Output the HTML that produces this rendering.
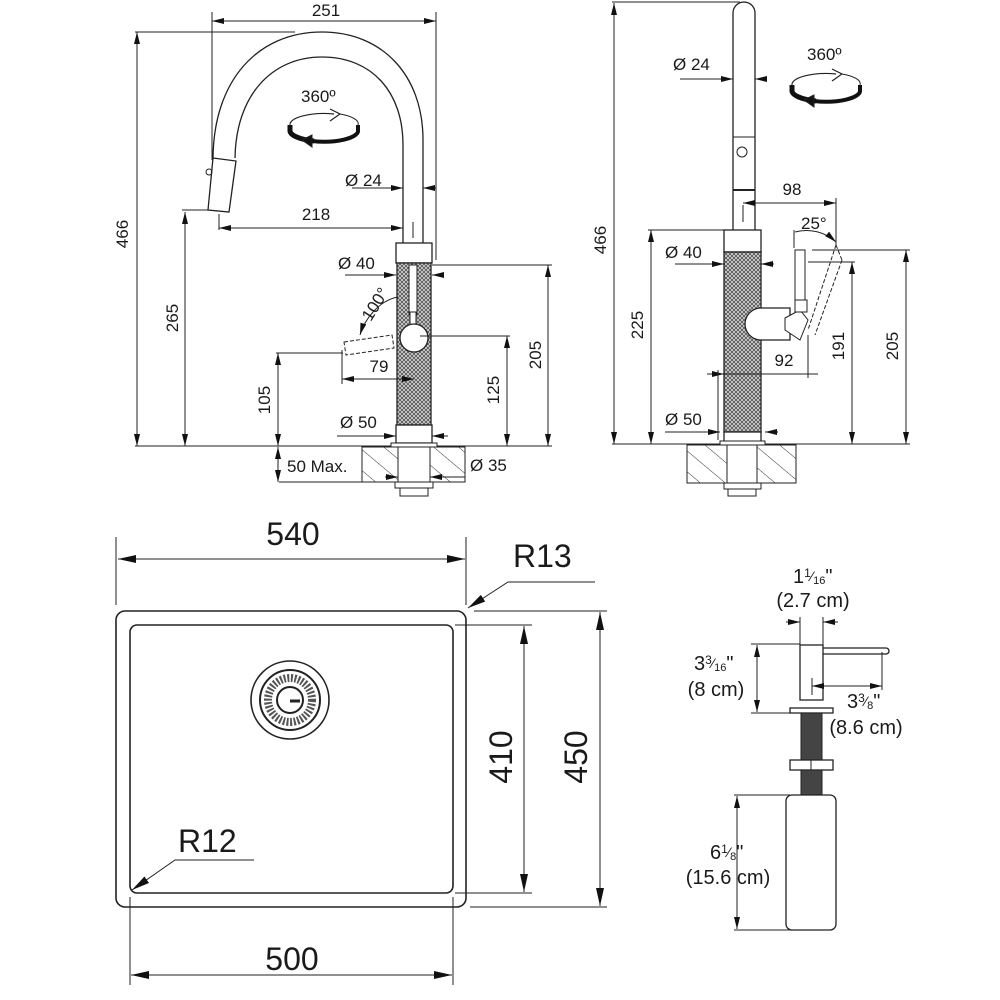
<!DOCTYPE html>
<html><head><meta charset="utf-8"><style>
html,body{margin:0;padding:0;background:#fff}
svg{display:block}
text{font-family:"Liberation Sans",Arial,sans-serif;fill:#1a1a1a}
</style></head><body>
<svg width="1000" height="1000" viewBox="0 0 1000 1000" xmlns="http://www.w3.org/2000/svg">
<defs>
<marker id="a" viewBox="0 0 12 6" refX="12" refY="3" markerWidth="12" markerHeight="6" markerUnits="userSpaceOnUse" orient="auto-start-reverse"><path d="M0,0 L12,3 L0,6 z" fill="#111"/></marker>
<marker id="b" viewBox="0 0 18 8" refX="18" refY="4" markerWidth="18" markerHeight="8" markerUnits="userSpaceOnUse" orient="auto-start-reverse"><path d="M0,0 L18,4 L0,8 z" fill="#111"/></marker>
<pattern id="k" width="4" height="4" patternUnits="userSpaceOnUse"><rect width="4" height="4" fill="#d0d0d0"/><path d="M0,0 L4,4 M4,0 L0,4" stroke="#444" stroke-width="0.7"/></pattern>
<pattern id="h" width="16" height="16" patternUnits="userSpaceOnUse" patternTransform="rotate(-50)"><line x1="0" y1="0" x2="0" y2="16" stroke="#333" stroke-width="1"/></pattern>
</defs>
<g fill="none" stroke="#222" stroke-width="1">

<!-- ================= LEFT FAUCET ================= -->
<line x1="212" y1="21" x2="436" y2="21" marker-start="url(#a)" marker-end="url(#a)"/>
<line x1="212" y1="12" x2="212" y2="160"/>
<line x1="436" y1="12" x2="436" y2="260"/>
<line x1="135" y1="32" x2="295" y2="32"/>
<line x1="137" y1="32" x2="137" y2="446" marker-start="url(#a)" marker-end="url(#a)"/>
<line x1="135" y1="446" x2="552" y2="446"/>
<path d="M213,160 C213,80 258,32 322,32 C382,32 423,75 423,140 L423,243" stroke-width="1.3"/>
<path d="M235,158 C236,95 272,57 322,57 C372,57 403,92 403,145 L403,243" stroke-width="1.3"/>
<path d="M213,158 L236,161 L229,212 L208,210 Z" stroke-width="1.3" fill="#fff"/>
<circle cx="209" cy="172" r="3"/>
<line x1="182" y1="210" x2="208" y2="210"/>
<line x1="219" y1="214" x2="219" y2="230"/>
<line x1="219" y1="228" x2="403" y2="228" marker-start="url(#a)" marker-end="url(#a)"/>
<line x1="413" y1="222" x2="413" y2="238"/>
<line x1="185" y1="212" x2="185" y2="446" marker-start="url(#a)" marker-end="url(#a)"/>
<line x1="352" y1="188" x2="403" y2="188" marker-end="url(#a)"/>
<line x1="436" y1="188" x2="423" y2="188" marker-end="url(#a)"/>
<rect x="396" y="243" width="36" height="20" fill="#fff" stroke-width="1.3"/>
<rect x="397" y="263" width="34" height="162" fill="url(#k)" stroke-width="1.3"/>
<rect x="396" y="425" width="36" height="18" fill="#fff" stroke-width="1.3"/>
<rect x="391" y="443" width="46" height="4" fill="#fff"/>
<rect x="409" y="265" width="8" height="50" fill="#fff"/>
<rect x="410" y="312" width="6" height="18" fill="#fff"/>
<circle cx="414" cy="338" r="14" fill="#fff" stroke-width="1.3"/>
<path d="M344,342 L392,335 L394,348 L346,355 Z" fill="#fff" stroke-dasharray="4,2"/>
<path d="M398,297 C380,300 365,318 360,335" marker-end="url(#a)"/>
<line x1="345" y1="275" x2="396" y2="275" marker-end="url(#a)"/>
<line x1="443" y1="275" x2="432" y2="275" marker-end="url(#a)"/>
<line x1="432" y1="265" x2="552" y2="265"/>
<line x1="548" y1="265" x2="548" y2="446" marker-start="url(#a)" marker-end="url(#a)"/>
<line x1="420" y1="336" x2="510" y2="336"/>
<line x1="507" y1="336" x2="507" y2="446" marker-start="url(#a)" marker-end="url(#a)"/>
<line x1="276" y1="353" x2="343" y2="353"/>
<line x1="278" y1="353" x2="278" y2="446" marker-start="url(#a)" marker-end="url(#a)"/>
<line x1="342" y1="350" x2="342" y2="384"/>
<line x1="342" y1="379" x2="414" y2="379" marker-start="url(#a)" marker-end="url(#a)"/>
<line x1="337" y1="436" x2="396" y2="436" marker-end="url(#a)"/>
<line x1="448" y1="436" x2="432" y2="436" marker-end="url(#a)"/>
<rect x="362" y="447" width="103" height="35" fill="url(#h)"/>
<rect x="398" y="447" width="32" height="35" fill="#fff"/>
<rect x="395" y="482" width="38" height="6" fill="#fff"/>
<rect x="400" y="488" width="28" height="8" fill="#fff"/>
<line x1="279" y1="482" x2="362" y2="482"/>
<line x1="278" y1="447" x2="278" y2="482" marker-start="url(#a)" marker-end="url(#a)"/>
<line x1="385" y1="477" x2="398" y2="477" marker-end="url(#a)"/>
<line x1="465" y1="477" x2="430" y2="477" marker-end="url(#a)"/>
<!-- 360 left -->
<g transform="translate(324,125)">
<path d="M-34,0 A34,11 0 0 1 10,-11" stroke-width="1.2"/>
<path d="M6,-16 L16,-11 L6,-4" stroke-width="1.2"/>
<path d="M16,-11 A34,11 0 0 1 34,0"/>
<path d="M-34,0 L-34,5 A34,11 0 0 0 -10,16" stroke="#111" stroke-width="5"/>
<path d="M-12,10 L-22,15 L-12,22 Z" fill="#111"/>
<path d="M-12,16 A34,11 0 0 0 34,5 L34,0" stroke="#111" stroke-width="4"/>
</g>

<!-- ================= RIGHT FAUCET ================= -->
<line x1="612" y1="2" x2="740" y2="2"/>
<line x1="614" y1="3" x2="614" y2="444" marker-start="url(#a)" marker-end="url(#a)"/>
<line x1="612" y1="444" x2="910" y2="444"/>
<path d="M733,230 L733,13 A11,11 0 0 1 755,13 L755,230" stroke-width="1.3" fill="#fff"/>
<line x1="733" y1="137" x2="755" y2="137"/>
<line x1="733" y1="190" x2="755" y2="190" stroke-width="2"/>
<circle cx="742" cy="152" r="5"/>
<line x1="680" y1="79" x2="733" y2="79" marker-end="url(#a)"/>
<line x1="767" y1="79" x2="755" y2="79" marker-end="url(#a)"/>
<line x1="743" y1="205" x2="743" y2="222"/>
<line x1="743" y1="203" x2="836" y2="203" marker-start="url(#a)" marker-end="url(#a)"/>
<line x1="836" y1="198" x2="836" y2="245"/>
<rect x="724" y="230" width="37" height="22" fill="#fff" stroke-width="1.3"/>
<rect x="724" y="252" width="37" height="180" fill="url(#k)" stroke-width="1.3"/>
<rect x="724" y="432" width="37" height="12" fill="#fff" stroke-width="1.3"/>
<rect x="720" y="441" width="45" height="4" fill="#fff"/>
<path d="M761,308 L790,308 L790,340 L761,340 A16,16 0 0 1 761,308 Z" fill="#fff" stroke-width="1.3"/>
<path d="M785,318 L800,310 L808,320 L800,340 L785,330 Z" fill="#fff"/>
<rect x="795" y="250" width="10" height="50" fill="#fff"/>
<rect x="795" y="300" width="12" height="12" fill="#fff"/>
<path d="M836,245 L808,330 M842,260 L815,335 M836,245 L842,260" stroke-dasharray="4,2"/>
<line x1="794" y1="230" x2="794" y2="248"/>
<path d="M795,232 C810,228 825,232 836,242" marker-end="url(#a)"/>
<line x1="675" y1="264" x2="724" y2="264" marker-end="url(#a)"/>
<line x1="774" y1="264" x2="761" y2="264" marker-end="url(#a)"/>
<line x1="648" y1="230" x2="724" y2="230"/>
<line x1="651" y1="230" x2="651" y2="444" marker-start="url(#a)" marker-end="url(#a)"/>
<line x1="707" y1="374" x2="818" y2="374"/>
<line x1="719" y1="374" x2="724" y2="374" marker-end="url(#a)"/>
<line x1="808" y1="335" x2="808" y2="378"/>
<line x1="718" y1="370" x2="718" y2="440"/>
<line x1="808" y1="262" x2="855" y2="262"/>
<line x1="852" y1="262" x2="852" y2="444" marker-start="url(#a)" marker-end="url(#a)"/>
<line x1="812" y1="250" x2="910" y2="250"/>
<line x1="906" y1="250" x2="906" y2="444" marker-start="url(#a)" marker-end="url(#a)"/>
<line x1="665" y1="432" x2="720" y2="432" marker-end="url(#a)"/>
<line x1="778" y1="432" x2="765" y2="432" marker-end="url(#a)"/>
<rect x="687" y="445" width="109" height="38" fill="url(#h)"/>
<rect x="727" y="445" width="30" height="38" fill="#fff"/>
<rect x="724" y="483" width="37" height="6" fill="#fff"/>
<rect x="728" y="489" width="28" height="7" fill="#fff"/>
<!-- 360 right -->
<g transform="translate(826,85)">
<path d="M-34,0 A34,11 0 0 1 10,-11" stroke-width="1.2"/>
<path d="M6,-16 L16,-11 L6,-4" stroke-width="1.2"/>
<path d="M16,-11 A34,11 0 0 1 34,0"/>
<path d="M-34,0 L-34,5 A34,11 0 0 0 -10,16" stroke="#111" stroke-width="5"/>
<path d="M-12,10 L-22,15 L-12,22 Z" fill="#111"/>
<path d="M-12,16 A34,11 0 0 0 34,5 L34,0" stroke="#111" stroke-width="4"/>
</g>

<!-- ================= SINK ================= -->
<rect x="116" y="611" width="350" height="296" rx="9" stroke-width="1.6"/>
<rect x="130" y="625" width="323" height="268" rx="7" stroke-width="1.6"/>
<circle cx="290" cy="700" r="39" stroke-width="1.6"/>
<circle cx="290" cy="700" r="30" stroke-width="2"/>
<circle cx="290" cy="700" r="22" stroke="#555" stroke-width="8" stroke-dasharray="2,1.6"/>
<circle cx="290" cy="700" r="13" stroke-width="2" fill="#fff"/>
<line x1="290" y1="701" x2="300" y2="701" stroke-width="3"/>
<line x1="116" y1="537" x2="116" y2="605"/>
<line x1="466" y1="537" x2="466" y2="605"/>
<line x1="118" y1="559" x2="465" y2="559" marker-start="url(#b)" marker-end="url(#b)"/>
<path d="M595,582 L508,582 L468,608" marker-end="url(#b)"/>
<line x1="455" y1="625" x2="532" y2="625"/>
<line x1="455" y1="893" x2="532" y2="893"/>
<line x1="524" y1="626" x2="524" y2="892" marker-start="url(#b)" marker-end="url(#b)"/>
<line x1="474" y1="611" x2="607" y2="611"/>
<line x1="470" y1="907" x2="607" y2="907"/>
<line x1="600" y1="612" x2="600" y2="906" marker-start="url(#b)" marker-end="url(#b)"/>
<line x1="130" y1="897" x2="130" y2="985"/>
<line x1="453" y1="897" x2="453" y2="985"/>
<line x1="131" y1="975" x2="452" y2="975" marker-start="url(#b)" marker-end="url(#b)"/>
<path d="M254,860 L175,860 L132,890" marker-end="url(#b)"/>

<!-- ================= SOAP DISPENSER ================= -->
<line x1="800" y1="617" x2="800" y2="645"/>
<line x1="823" y1="617" x2="823" y2="645"/>
<line x1="786" y1="622" x2="800" y2="622" marker-end="url(#a)"/>
<line x1="838" y1="622" x2="823" y2="622" marker-end="url(#a)"/>
<rect x="800" y="645" width="23" height="55" stroke-width="1.3"/>
<path d="M823,648 L886,648 A3,3 0 0 1 886,654 L823,654" stroke-width="1.3"/>
<line x1="751" y1="644" x2="800" y2="644"/>
<line x1="751" y1="713" x2="790" y2="713"/>
<line x1="757" y1="645" x2="757" y2="712" marker-start="url(#a)" marker-end="url(#a)"/>
<line x1="882" y1="652" x2="882" y2="690"/>
<line x1="812" y1="678" x2="812" y2="695"/>
<line x1="812" y1="686" x2="882" y2="686" marker-start="url(#a)" marker-end="url(#a)"/>
<rect x="790" y="708" width="43" height="5" stroke-width="1.3"/>
<rect x="801" y="713" width="21" height="47" fill="#444"/>
<rect x="790" y="760" width="43" height="10" fill="#fff" stroke-width="1.3"/>
<line x1="811" y1="760" x2="811" y2="770"/>
<rect x="801" y="770" width="21" height="25" fill="#444"/>
<rect x="786" y="795" width="50" height="135" rx="6" stroke-width="1.3"/>
<line x1="734" y1="795" x2="790" y2="795"/>
<line x1="734" y1="930" x2="790" y2="930"/>
<line x1="737" y1="796" x2="737" y2="929" marker-start="url(#a)" marker-end="url(#a)"/>
</g>

<g font-size="17">
<text x="326" y="16" text-anchor="middle">251</text>
<text x="134" y="240" text-anchor="middle" transform="rotate(-90 128 240)">466</text>
<text x="178" y="318" text-anchor="middle" transform="rotate(-90 178 318)">265</text>
<text x="316" y="220" text-anchor="middle">218</text>
<text x="345" y="186">Ø 24</text>
<text x="338" y="269">Ø 40</text>
<text x="375" y="310" text-anchor="middle" transform="rotate(-58 375 304)">100°</text>
<text x="379" y="372" text-anchor="middle">79</text>
<text x="270" y="400" text-anchor="middle" transform="rotate(-90 270 400)">105</text>
<text x="499" y="390" text-anchor="middle" transform="rotate(-90 499 390)">125</text>
<text x="541" y="355" text-anchor="middle" transform="rotate(-90 541 355)">205</text>
<text x="340" y="428">Ø 50</text>
<text x="287" y="472">50 Max.</text>
<text x="470" y="471">Ø 35</text>
<text x="301" y="102">360º</text>

<text x="606" y="240" text-anchor="middle" transform="rotate(-90 606 240)">466</text>
<text x="673" y="70">Ø 24</text>
<text x="807" y="60">360º</text>
<text x="792" y="195" text-anchor="middle">98</text>
<text x="801" y="229">25°</text>
<text x="665" y="258">Ø 40</text>
<text x="643" y="325" text-anchor="middle" transform="rotate(-90 643 325)">225</text>
<text x="784" y="366" text-anchor="middle">92</text>
<text x="844" y="346" text-anchor="middle" transform="rotate(-90 844 346)">191</text>
<text x="898" y="346" text-anchor="middle" transform="rotate(-90 898 346)">205</text>
<text x="665" y="425">Ø 50</text>
</g>

<g font-size="32">
<text x="293" y="545" text-anchor="middle">540</text>
<text x="513" y="567">R13</text>
<text x="525" y="770" text-anchor="middle" transform="rotate(-90 512 770)">410</text>
<text x="600" y="770" text-anchor="middle" transform="rotate(-90 587 770)">450</text>
<text x="178" y="852">R12</text>
<text x="292" y="970" text-anchor="middle">500</text>
</g>

<g font-size="20">
<text x="793" y="583">1<tspan font-size="12" dy="-6">1</tspan><tspan font-size="14" dy="4">⁄</tspan><tspan font-size="11" dy="3">16</tspan><tspan dy="-1">"</tspan></text>
<text x="813" y="607" text-anchor="middle">(2.7 cm)</text>
<text x="694" y="670">3<tspan font-size="12" dy="-6">3</tspan><tspan font-size="14" dy="4">⁄</tspan><tspan font-size="11" dy="3">16</tspan><tspan dy="-1">"</tspan></text>
<text x="716" y="696" text-anchor="middle">(8 cm)</text>
<text x="847" y="708">3<tspan font-size="12" dy="-6">3</tspan><tspan font-size="14" dy="4">⁄</tspan><tspan font-size="11" dy="3">8</tspan><tspan dy="-1">"</tspan></text>
<text x="866" y="734" text-anchor="middle">(8.6 cm)</text>
<text x="710" y="859">6<tspan font-size="12" dy="-6">1</tspan><tspan font-size="14" dy="4">⁄</tspan><tspan font-size="11" dy="3">8</tspan><tspan dy="-1">"</tspan></text>
<text x="728" y="884" text-anchor="middle">(15.6 cm)</text>
</g>
</svg>
</body></html>
